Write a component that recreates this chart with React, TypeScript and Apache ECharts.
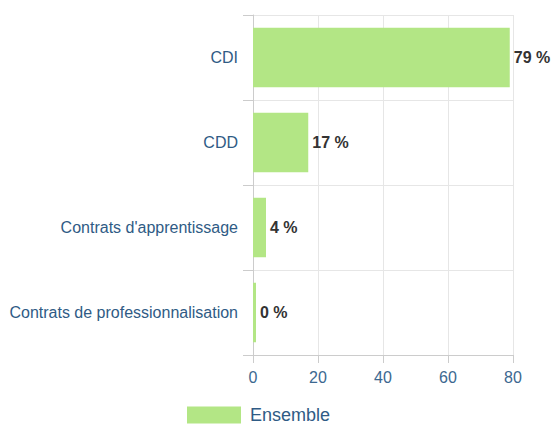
import React, { useEffect, useRef } from "react";
import * as echarts from "echarts";

const categories = ["CDI", "CDD", "Contrats d'apprentissage", "Contrats de professionnalisation"];
const values = [79, 17, 4, 0];
const seriesName = "Ensemble";
const xTicks = { min: 0, max: 80, interval: 20 };

const FONT = "'Liberation Sans', Arial, sans-serif";

export default function App() {
  const ref = useRef<HTMLDivElement>(null);
  useEffect(() => {
    const chart = echarts.init(ref.current!, null, { renderer: "svg" });
    chart.setOption({
      animation: false,
      textStyle: { fontFamily: FONT },
      grid: { left: 253, right: 41, top: 15, bottom: 70, containLabel: false },
      legend: {
        data: [seriesName],
        left: 187,
        top: 406,
        padding: 0,
        itemWidth: 54,
        itemHeight: 17,
        itemGap: 9,
        icon: "rect",
        textStyle: {
          color: "#2f5b85",
          fontSize: 18,
          fontFamily: FONT,
          lineHeight: 18,
          padding: [0, 0, 0, 4],
        },
      },
      xAxis: {
        type: "value",
        min: xTicks.min,
        max: xTicks.max,
        interval: xTicks.interval,
        axisLine: { show: true, lineStyle: { color: "#cccccc" } },
        axisTick: { show: true, length: 8, lineStyle: { color: "#cccccc" } },
        axisLabel: { color: "#3c6890", fontSize: 16, margin: 14, fontFamily: FONT },
        splitLine: { show: true, lineStyle: { color: "#e6e6e6" } },
      },
      yAxis: {
        type: "category",
        data: categories,
        inverse: true,
        axisLine: { show: true, lineStyle: { color: "#cccccc" } },
        axisTick: { show: true, length: 10, lineStyle: { color: "#cccccc" } },
        axisLabel: { color: "#2f5b85", fontSize: 16, margin: 15, fontFamily: FONT },
        splitLine: { show: true, lineStyle: { color: "#e6e6e6" } },
      },
      series: [
        {
          name: seriesName,
          type: "bar",
          data: values,
          barCategoryGap: "30%",
          barMinHeight: 3,
          itemStyle: { color: "#b3e685" },
          label: {
            show: true,
            position: "right",
            distance: 4,
            formatter: "{c} %",
            color: "#333333",
            fontSize: 16,
            fontWeight: "bold",
            fontFamily: FONT,
          },
        },
      ],
    });
    return () => chart.dispose();
  }, []);
  return (
    <div
      ref={ref}
      style={{ position: "fixed", left: 0, top: 0, width: 554, height: 425, background: "#fff" }}
    />
  );
}
